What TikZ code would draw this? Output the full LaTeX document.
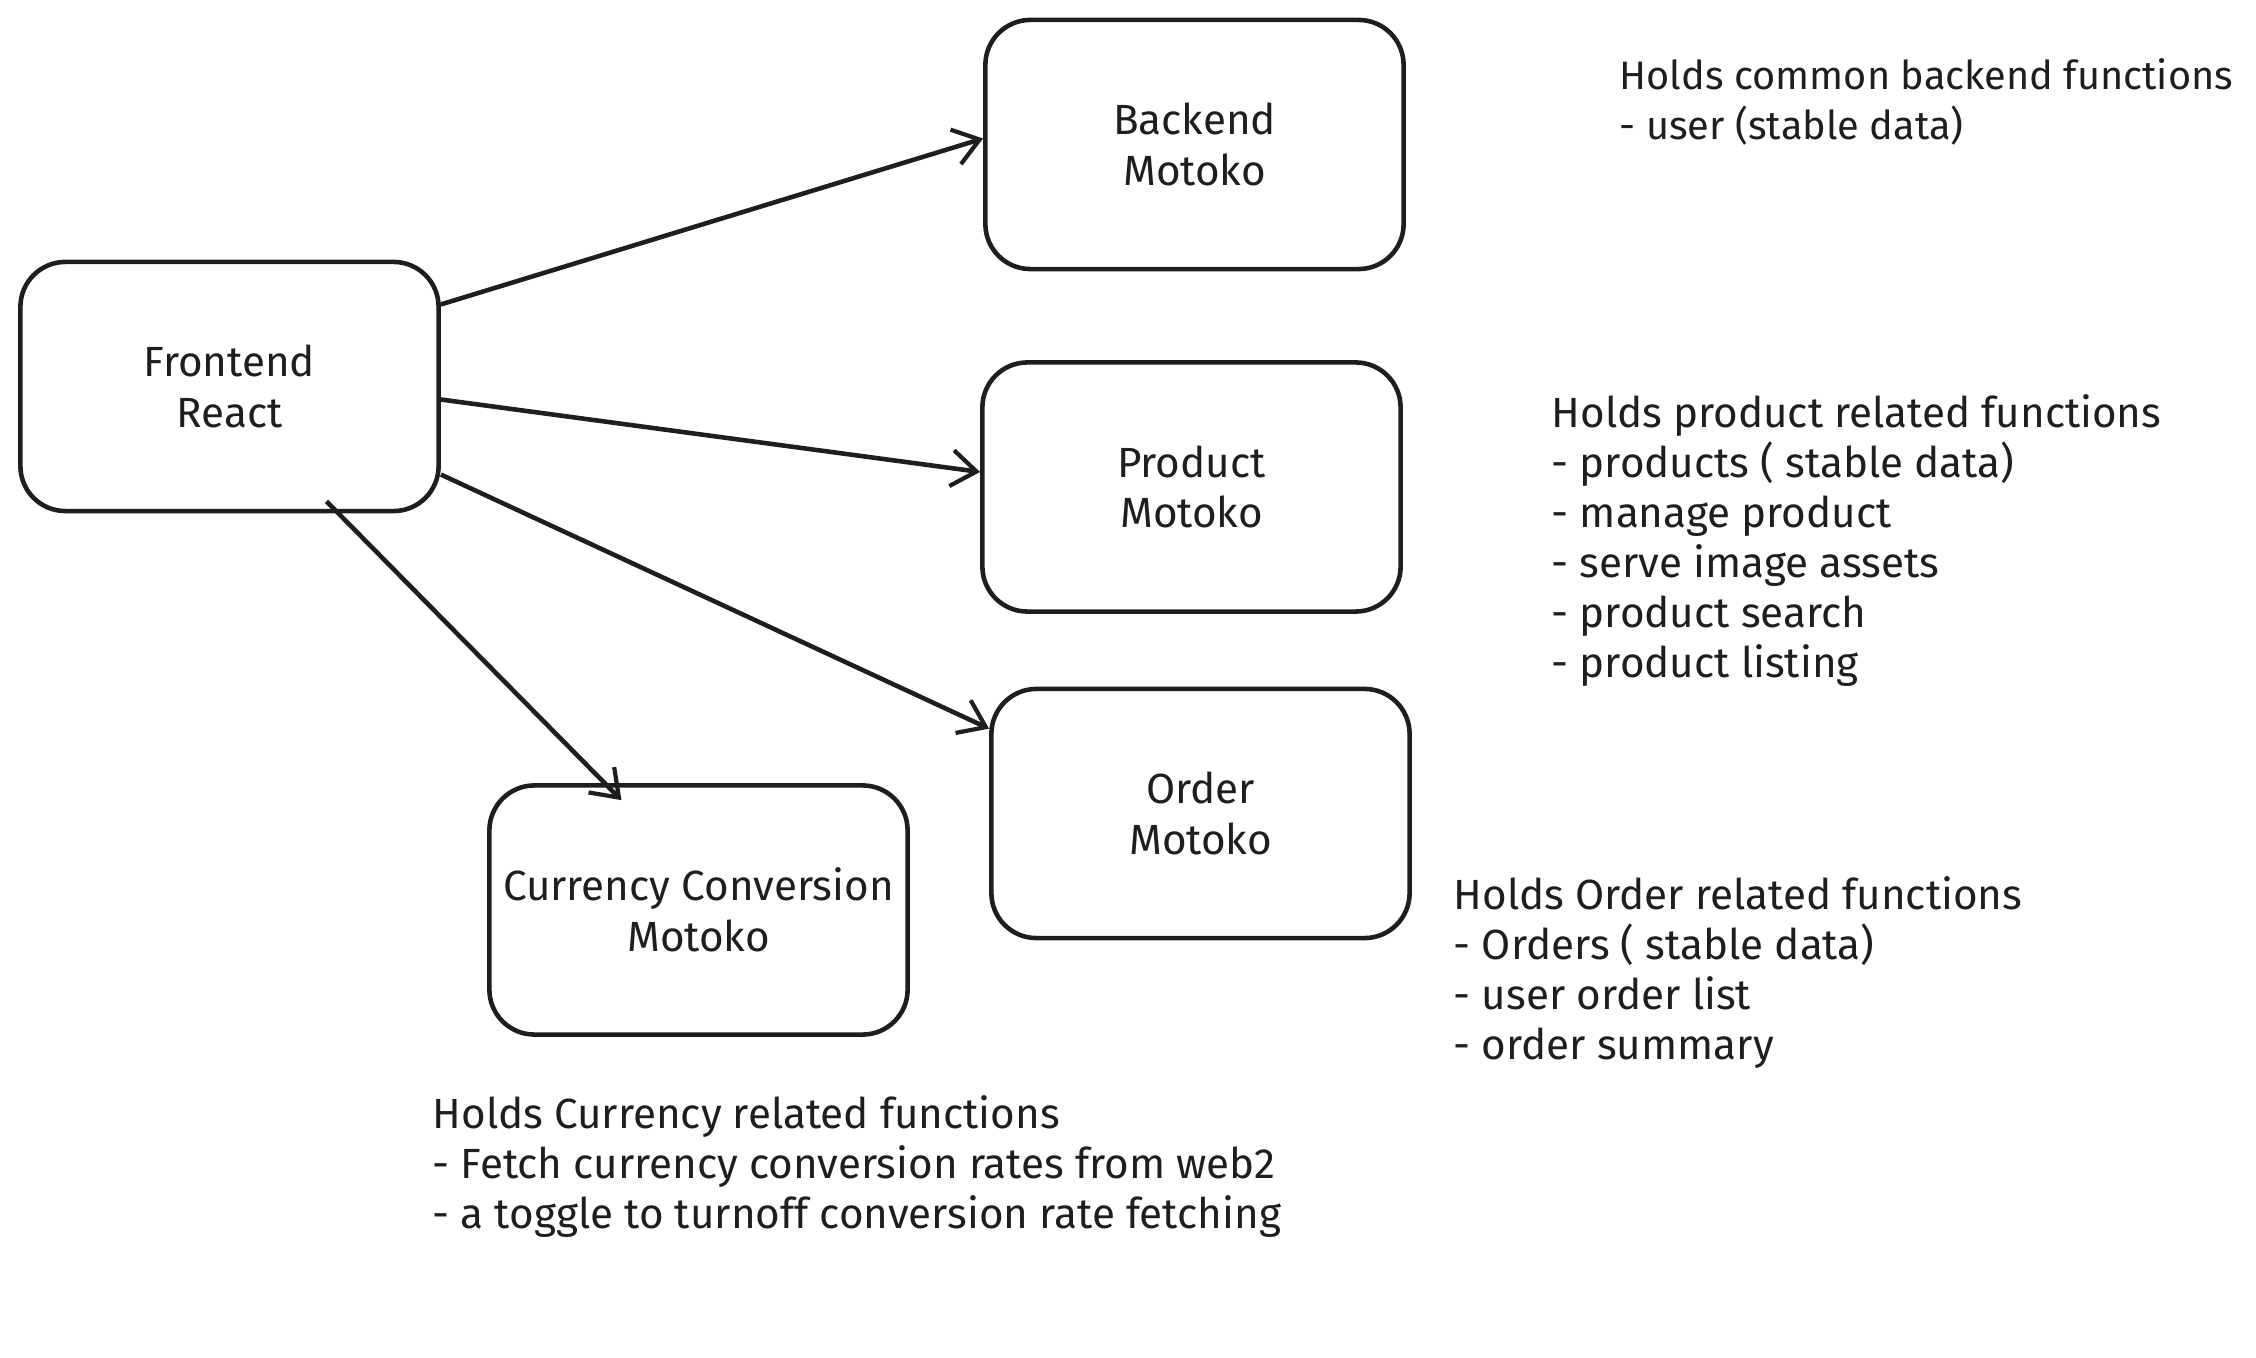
\documentclass[tikz,border=0pt]{standalone}
\usepackage{fontspec}
\setmainfont{Fira Sans}
\usetikzlibrary{arrows.meta,positioning}
\definecolor{ink}{HTML}{1E1E1E}

\begin{document}
\begin{tikzpicture}[x=0.01cm,y=-0.01cm,
  box/.style={draw=ink,line width=1.3pt,rounded corners=0.45cm,minimum width=4.18cm,minimum height=2.49cm,inner sep=0pt,align=center,text=ink,font=\fontsize{12}{14.4}\selectfont},
  lab/.style={anchor=north west,inner sep=0pt,align=left,text=ink,font=\fontsize{12}{14.2}\selectfont},
  conn/.style={draw=ink,line width=1.3pt,-{Straight Barb[length=0.25cm,width=0.36cm,line width=1.2pt]}}]
\useasboundingbox (0,0) rectangle (2256,1358);
% services
\node[box] (front) at (229.5,386.5) {Frontend\\React};
\node[box] (back) at (1194.5,144.5) {Backend\\Motoko};
\node[box] (prod) at (1191.5,487) {Product\\Motoko};
\node[box] (order) at (1200.5,813.5) {Order\\Motoko};
\node[box] (curr) at (698.5,910) {Currency Conversion\\Motoko};
% calls
\draw[conn] ([yshift=0.82cm]front.east) -- ([yshift=0.06cm]back.west);
\draw[conn] ([yshift=-0.13cm]front.east) -- ([yshift=0.15cm]prod.west);
\draw[conn] ([yshift=-0.88cm]front.east) -- ([yshift=-0.42cm]order.north west);
\draw[conn] ([xshift=0.97cm,yshift=0.12cm]front.south) -- ([xshift=-0.77cm,yshift=-0.17cm]curr.north);
% notes
\node[lab,font=\fontsize{11.3}{14.2}\selectfont] (backnote) at (1619,58) {Holds common backend functions\\- user (stable data)};
\node[lab] (prodnote) at (1551,394) {Holds product related functions\\- products ( stable data)\\- manage product\\- serve image assets\\- product search\\- product listing};
\node[lab] (ordernote) at (1453,876) {Holds Order related functions\\- Orders ( stable data)\\- user order list\\- order summary};
\node[lab] (currnote) at (432,1095) {Holds Currency related functions\\- Fetch currency conversion rates from web2\\- a toggle to turnoff conversion rate fetching};
\end{tikzpicture}
\end{document}
